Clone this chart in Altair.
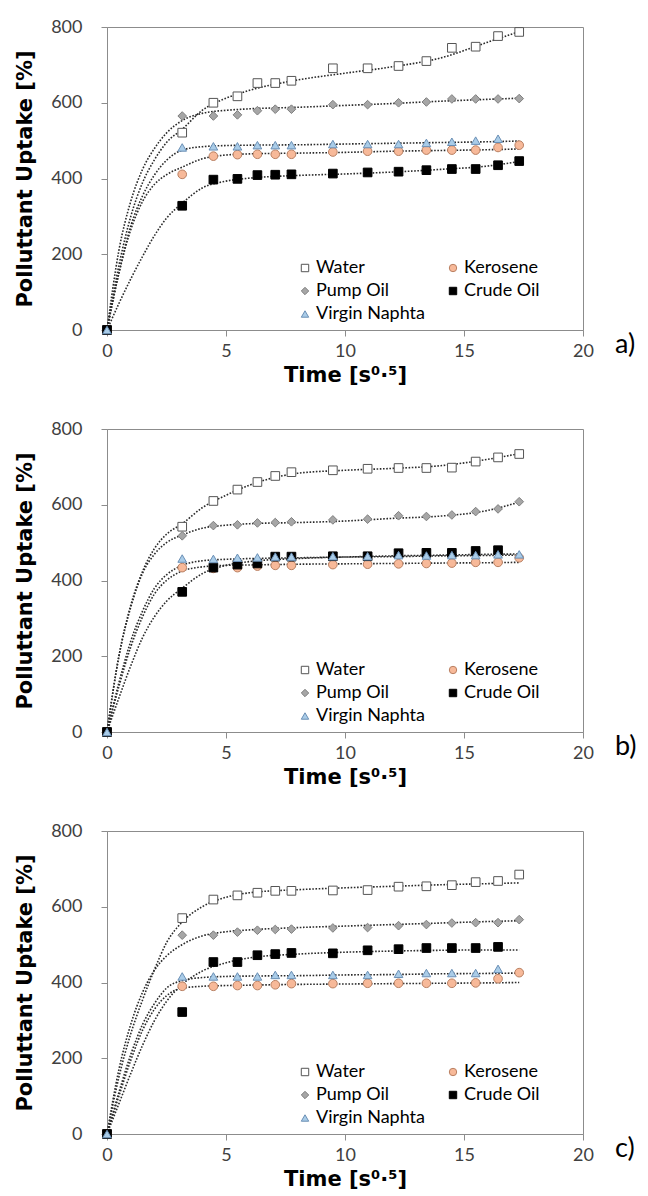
import altair as alt
import pandas as pd

# sample times (s^0.5)
X = [0, 3.16, 4.47, 5.48, 6.32, 7.07, 7.75, 9.49, 10.95, 12.25, 13.42, 14.49, 15.49, 16.43, 17.32]

# legend order (column-major in a 2-column legend)
SERIES = ["Water", "Pump Oil", "Virgin Naphta", "Kerosene", "Crude Oil"]
DRAW_ORDER = ["Water", "Kerosene", "Pump Oil", "Crude Oil", "Virgin Naphta"]
FILLS = ["#ffffff", "#a6a6a6", "#a9cce8", "#f7b999", "#000000"]
STROKES = ["#555555", "#7f7f7f", "#6a8fb5", "#b98062", "#000000"]
SHAPES = ["square", "diamond", "triangle-up", "circle", "square"]

# panel a) measured points
a_water = [0, 521, 600, 617, 652, 652, 658, 691, 691, 697, 710, 745, 748, 776, 787]
a_pump = [0, 565, 565, 568, 579, 583, 583, 595, 595, 600, 602, 610, 610, 610, 611]
a_naphta = [0, 482, 485, 485, 488, 488, 488, 491, 491, 491, 494, 497, 500, 505, None]
a_kero = [0, 411, 459, 463, 464, 464, 464, 470, 472, 472, 475, 475, 475, 482, 488]
a_crude = [0, 328, 397, 399, 409, 410, 411, 413, 416, 418, 422, 425, 425, 435, 446]

# panel b) measured points
b_water = [0, 542, 610, 640, 660, 676, 686, 691, 695, 697, 697, 698, 714, 725, 734]
b_pump = [0, 518, 545, 547, 552, 553, 555, 560, 562, 571, 569, 573, 582, 589, 608]
b_naphta = [0, 458, 457, 460, 461, 463, 463, 464, 464, 467, 466, 467, 467, 469, 469]
b_kero = [0, 434, 432, 434, 438, 440, 440, 442, 443, 444, 445, 446, 448, 448, 460]
b_crude = [0, 370, 434, 442, 445, 463, 463, 464, 464, 472, 473, 473, 478, 480, None]

# panel c) measured points
c_water = [0, 570, 619, 630, 637, 642, 642, 643, 644, 653, 654, 657, 665, 668, 685]
c_pump = [0, 525, 525, 533, 538, 540, 541, 544, 545, 550, 553, 557, 558, 558, 566]
c_naphta = [0, 416, 416, 416, 416, 420, 420, 420, 420, 423, 425, 425, 425, 436, None]
c_kero = [0, 390, 390, 392, 392, 394, 397, 397, 398, 398, 398, 398, 399, 410, 426]
c_crude = [0, 322, 454, 454, 472, 475, 478, 477, 485, 488, 491, 491, 491, 494, None]

# fitted curves
CX = [0, 0.5, 1, 1.5, 2, 2.5, 3.16, 4, 5, 6, 8, 10, 12, 14, 16, 17.32]

a_fit_water = [0, 170, 300, 390, 450, 495, 530, 580, 612, 633, 660, 678, 695, 718, 760, 788]
a_fit_pump = [0, 210, 340, 425, 480, 520, 553, 572, 580, 584, 588, 593, 598, 604, 609, 612]
a_fit_naphta = [0, 150, 275, 355, 410, 448, 475, 484, 487, 488, 489, 491, 493, 495, 497, 499]
a_fit_kero = [0, 150, 265, 340, 385, 410, 430, 452, 462, 465, 467, 469, 472, 474, 476, 478]
a_fit_crude = [0, 70, 135, 195, 250, 295, 335, 375, 393, 401, 408, 412, 417, 424, 433, 445]

b_fit_water = [0, 200, 335, 425, 485, 522, 550, 592, 625, 652, 683, 691, 696, 703, 720, 735]
b_fit_pump = [0, 200, 330, 420, 470, 500, 520, 538, 546, 550, 553, 557, 564, 570, 585, 607]
b_fit_naphta = [0, 130, 240, 320, 380, 415, 440, 452, 456, 458, 460, 462, 463, 465, 466, 467]
b_fit_kero = [0, 120, 225, 305, 365, 400, 425, 436, 440, 441, 443, 444, 445, 446, 447, 448]
b_fit_crude = [0, 90, 175, 250, 305, 345, 380, 418, 440, 450, 458, 462, 465, 467, 469, 470]

c_fit_water = [0, 150, 265, 355, 435, 505, 560, 600, 625, 637, 645, 650, 654, 658, 661, 663]
c_fit_pump = [0, 170, 290, 375, 433, 470, 500, 523, 534, 539, 545, 549, 553, 557, 561, 563]
c_fit_naphta = [0, 110, 210, 290, 345, 385, 405, 413, 416, 417, 418, 420, 421, 423, 424, 425]
c_fit_kero = [0, 100, 195, 275, 330, 365, 385, 390, 392, 393, 395, 396, 397, 398, 399, 400]
c_fit_crude = [0, 80, 160, 235, 300, 350, 395, 430, 452, 465, 475, 480, 483, 485, 486, 486]

PANELS = [
    ("a)", [a_water, a_pump, a_naphta, a_kero, a_crude],
     [a_fit_water, a_fit_pump, a_fit_naphta, a_fit_kero, a_fit_crude]),
    ("b)", [b_water, b_pump, b_naphta, b_kero, b_crude],
     [b_fit_water, b_fit_pump, b_fit_naphta, b_fit_kero, b_fit_crude]),
    ("c)", [c_water, c_pump, c_naphta, c_kero, c_crude],
     [c_fit_water, c_fit_pump, c_fit_naphta, c_fit_kero, c_fit_crude]),
]

W, H = 476, 303
TITLE_FONT = "DejaVu Sans"
TICK_FONT = "Lato"


def make_panel(label, points, fits):
    prow = []
    for name, vals in zip(SERIES, points):
        for xv, yv in zip(X, vals):
            if yv is not None:
                prow.append({"x": xv, "y": yv, "series": name,
                             "rank": DRAW_ORDER.index(name)})
    frow = []
    for name, vals in zip(SERIES, fits):
        for xv, yv in zip(CX, vals):
            frow.append({"x": xv, "y": yv, "series": name})
    pdf = pd.DataFrame(prow).sort_values("rank", kind="stable")
    fdf = pd.DataFrame(frow)

    xenc = alt.X("x:Q", scale=alt.Scale(domain=[0, 20], nice=False),
                 axis=alt.Axis(values=[0, 5, 10, 15, 20], title="Time [s⁰·⁵]"))
    yenc = alt.Y("y:Q", scale=alt.Scale(domain=[0, 800], nice=False),
                 axis=alt.Axis(values=[0, 200, 400, 600, 800], title="Polluttant Uptake [%]"))

    leg = alt.Legend(title=None, orient="none", legendX=189, legendY=232,
                     columns=2, columnPadding=18, rowPadding=5,
                     labelFont=TICK_FONT, labelFontSize=18, labelColor="#000000",
                     symbolSize=55, symbolStrokeWidth=1, labelOffset=2)

    lines = alt.Chart(fdf).mark_line(
        interpolate="monotone", color="#2a2a2a", strokeWidth=1.6, strokeDash=[1.6, 1.6]
    ).encode(x=xenc, y=yenc, detail="series:N")

    pts = alt.Chart(pdf).mark_point(filled=True, size=75, strokeWidth=1, opacity=1).encode(
        x=xenc, y=yenc,
        fill=alt.Fill("series:N", scale=alt.Scale(domain=SERIES, range=FILLS), legend=leg),
        stroke=alt.Stroke("series:N", scale=alt.Scale(domain=SERIES, range=STROKES), legend=leg),
        shape=alt.Shape("series:N", scale=alt.Scale(domain=SERIES, range=SHAPES), legend=leg),
    )

    tag = alt.Chart(pd.DataFrame({"t": [label]})).mark_text(
        font=TICK_FONT, fontSize=27, align="left", baseline="middle", color="#000000"
    ).encode(text="t:N", x=alt.value(W + 32), y=alt.value(H + 15))

    return alt.layer(lines, pts, tag).properties(width=W, height=H)


panels = [make_panel(lbl, p, f) for lbl, p, f in PANELS]

chart = alt.vconcat(*panels, spacing=33).resolve_scale(
    fill="independent", stroke="independent", shape="independent"
).resolve_legend(
    fill="independent", stroke="independent", shape="independent"
).properties(
    padding={"left": 6, "top": 9, "right": 0, "bottom": 5}
).configure_view(
    stroke="#8c8c8c", strokeWidth=1
).configure_axis(
    grid=False, domainColor="#8c8c8c", tickColor="#8c8c8c", tickSize=6, labelFlush=False,
    labelFont=TICK_FONT, labelFontSize=18, labelColor="#404040",
    titleFont=TITLE_FONT, titleFontWeight="bold", titleFontSize=21, titleColor="#000000"
).configure_axisY(
    labelPadding=19, titlePadding=15
).configure_axisX(
    labelPadding=6, titlePadding=4
)

chart.save("out.html", embed_options={"renderer": "svg", "actions": False})
